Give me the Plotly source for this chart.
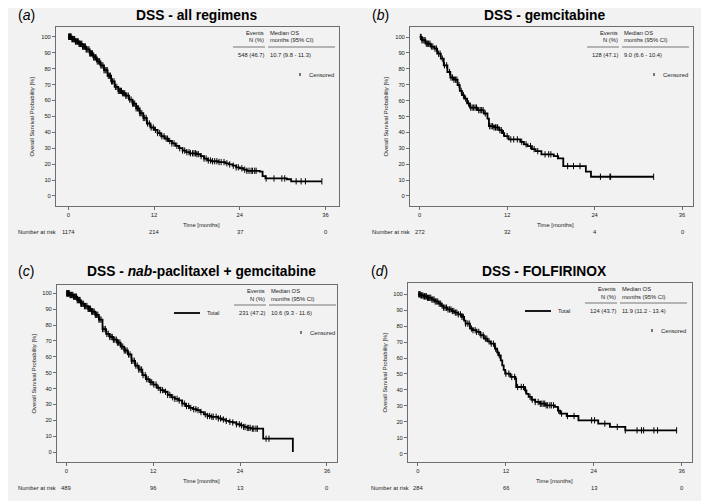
import numpy as np
import plotly.graph_objects as go

# The page body has an 8px default margin, so the figure is drawn 8px in from the window corner.
OFF = 8
WIN_W, WIN_H = 709, 501
W, H = WIN_W - OFF, WIN_H - OFF
FONT = "Liberation Sans, Arial, sans-serif"
BG = "#f2f2f2"
FRAME = "#6e6e6e"
SMALL = 5.8

# ---------------- data ----------------
titles = ["DSS - all regimens", "DSS - gemcitabine",
          "DSS - <i>nab</i>-paclitaxel + gemcitabine", "DSS - FOLFIRINOX"]
letters = ["a", "b", "c", "d"]
events = ["548 (46.7)", "128 (47.1)", "231 (47.2)", "124 (43.7)"]
median_os = ["10.7 (9.8 - 11.3)", "9.0 (6.6 - 10.4)", "10.6 (9.3 - 11.6)", "11.9 (11.2 - 13.4)"]
show_total = [False, False, True, True]

risk_times = [0, 12, 24, 36]
risk_a = ["1174", "214", "37", "0"]
risk_b = ["272", "32", "4", "0"]
risk_c = ["489", "96", "13", "0"]
risk_d = ["284", "66", "13", "0"]

x_ticks = [0, 12, 24, 36]
y_ticks = [0, 10, 20, 30, 40, 50, 60, 70, 80, 90, 100]

# Kaplan-Meier step points (time in months, survival %)
t_a = [0, 0.5, 1, 1.5, 2, 2.5, 3, 3.5, 4, 4.5, 5, 5.5, 6, 6.5, 7, 7.5, 8, 8.5, 9, 9.5,
       10, 10.5, 11, 11.5, 12, 12.5, 13, 13.5, 14, 14.5, 15, 15.5, 16, 16.5, 17, 18,
       18.5, 19, 19.5, 20, 21, 22, 22.5, 23, 23.5, 24, 24.5, 25, 26.8, 27.2, 27.6,
       30.6, 31.2, 35.5]
s_a = [100, 98.5, 97, 95.5, 93.8, 92, 89.5, 87, 84.5, 82, 79, 75.5, 72, 68.5, 66, 64.5,
       63, 60.5, 58, 55, 52, 49, 45.5, 43, 41.5, 39.5, 37.5, 36, 34.5, 33, 31.5, 30,
       28.5, 27.5, 26.8, 26.3, 25, 23.5, 22.3, 21.8, 21.3, 20.5, 19.8, 19, 18, 17.4,
       16.5, 15.8, 15.3, 12.5, 11, 10.5, 9.2, 9.2]
c_a = [0.05, 0.1, 0.15, 0.2, 0.3, 0.35, 0.4, 0.5, 0.6, 0.7, 0.8, 0.9, 1.0, 1.1, 1.2, 1.3,
       1.4, 1.5, 1.6, 1.7, 1.8, 1.9, 2.0, 2.1, 2.2, 2.3, 2.4, 2.5, 2.6, 2.75, 2.9, 3.0,
       3.1, 3.25, 3.4, 3.55, 3.7, 3.8, 3.9, 4.05, 4.2, 4.3, 4.4, 4.55, 4.7, 4.85, 5.0,
       5.15, 5.3, 5.45, 5.6, 5.75, 5.9, 6.05, 6.2, 6.4, 6.6, 6.8, 7.0, 7.15, 7.3, 7.45,
       7.6, 7.75, 7.9, 8.05, 8.2, 8.4, 8.6, 8.8, 9.0, 9.15, 9.3, 9.5, 9.7, 9.85, 10.0,
       10.15, 10.3, 10.5, 10.7, 10.9, 11.1, 11.35, 11.6, 11.9, 12.2, 12.5, 12.8, 13.1,
       13.4, 13.7, 13.9, 14.2, 14.5, 14.8, 15.2, 15.6, 16.0, 16.3, 16.6, 16.9, 17.1,
       17.4, 17.6, 17.8, 18.0, 18.2, 18.6, 19.0, 19.3, 19.6, 19.9, 20.2, 20.5, 20.8,
       21.1, 21.4, 21.8, 22.2, 22.6, 23.1, 23.5, 23.8, 24.3, 24.7, 25.0, 25.3, 25.6,
       25.8, 26.1, 26.3, 27.7, 28.8, 29.9, 30.3, 31.9, 32.6, 33.2, 35.5]

t_b = [0, 0.3, 0.8, 1.5, 2, 2.4, 2.9, 3.3, 3.8, 4.2, 4.7, 5.2, 5.5, 5.8, 6.1, 6.5, 6.9,
       7.9, 8.8, 9.3, 9.5, 10.2, 10.9, 11.3, 11.6, 12.2, 13.8, 14.3, 14.8, 15.4, 15.9,
       16.7, 18.4, 19, 19.7, 22.8, 23.5, 32.1]
s_b = [100, 98, 95.8, 94, 92.7, 89.5, 86.4, 82.2, 78, 74.5, 73.2, 69.7, 66.1, 63.5,
       61.3, 58.2, 55.6, 54, 51.9, 48.7, 43.9, 43.1, 41.4, 39.5, 37.7, 35.6, 34.1, 32.5,
       31.4, 29.5, 28.2, 26.2, 25.1, 23.6, 18.8, 15.3, 12.1, 12.1]
c_b = [0.1, 0.2, 0.3, 0.45, 0.6, 0.75, 0.9, 1.05, 1.2, 1.4, 1.6, 1.8, 2.1, 2.3, 2.6,
       2.8, 3.1, 3.4, 3.7, 4.1, 4.3, 4.5, 4.7, 4.9, 5.1, 5.4, 5.7, 6.0, 6.3, 6.7, 7.0,
       7.2, 7.4, 7.6, 7.8, 8.1, 8.3, 8.5, 8.7, 9.0, 9.6, 9.8, 10.0, 10.2, 10.4, 10.6,
       10.7, 11.0, 11.2, 11.5, 12.0, 12.5, 12.9, 13.4, 14.0, 14.6, 15.2, 15.7, 16.2,
       17.2, 17.7, 18.0, 18.9, 20.3, 21.1, 22.0, 24.8, 26.1, 26.2, 32.1]

t_c = [0, 0.5, 1, 1.5, 2, 2.5, 3, 3.5, 4, 4.5, 5, 5.5, 6, 6.5, 7, 7.5, 8, 8.5, 9, 9.5,
       10, 10.5, 11, 11.5, 12, 12.5, 13, 13.5, 14, 14.5, 15, 15.5, 16, 16.5, 17, 17.5,
       18, 18.5, 19, 19.5, 20, 21, 21.5, 22, 22.5, 23, 23.5, 24, 24.5, 25, 25.5, 27.2,
       31.3]
s_c = [100, 99, 97.9, 95.8, 93.5, 92, 90.3, 88.5, 86.5, 83.5, 77.5, 74.5, 72.5, 70.8,
       69, 66.5, 64, 61.5, 57.5, 54.5, 52, 48.5, 46, 44, 42.5, 40.5, 39, 38, 36, 34.5,
       33.5, 32.5, 30.5, 29, 27.8, 27, 26.4, 25.2, 23.7, 22.7, 22.2, 21.2, 20.5, 19.6,
       19, 18.6, 17.5, 16.8, 15.8, 15.2, 14.7, 8.4, 0]
c_c = [0.05, 0.1, 0.15, 0.2, 0.3, 0.35, 0.4, 0.5, 0.6, 0.7, 0.8, 0.9, 1.0, 1.1, 1.2,
       1.3, 1.4, 1.5, 1.6, 1.7, 1.8, 1.9, 2.0, 2.1, 2.2, 2.35, 2.5, 2.6, 2.7, 2.85, 3.0,
       3.1, 3.2, 3.35, 3.5, 3.6, 3.7, 3.85, 4.0, 4.1, 4.2, 4.35, 4.5, 4.65, 4.8, 5.0,
       5.2, 5.4, 5.6, 5.8, 6.0, 6.2, 6.35, 6.5, 6.7, 6.9, 7.05, 7.2, 7.4, 7.6, 7.8,
       8.0, 8.2, 8.4, 8.6, 8.8, 9.0, 9.2, 9.4, 9.6, 9.8, 10.0, 10.2, 10.4, 10.6, 10.9,
       11.1, 11.3, 11.6, 11.8, 12.1, 12.4, 12.7, 13.0, 13.3, 13.7, 14.0, 14.3, 14.7,
       15.0, 15.3, 15.6, 16.0, 16.3, 16.6, 16.9, 17.2, 17.6, 17.9, 18.2, 18.6, 19.2,
       19.5, 19.8, 20.1, 20.3, 20.7, 21.0, 21.3, 21.7, 22.1, 22.6, 23.0, 23.5, 23.9,
       24.2, 24.5, 24.7, 25.0, 25.2, 25.4, 25.7, 25.9, 26.2, 26.4, 27.6, 28.0]

t_d = [0, 0.4, 0.8, 1.3, 1.9, 2.3, 2.8, 3.2, 3.5, 4, 4.6, 5, 5.5, 6, 6.3, 6.5, 7.1, 7.5,
       8, 8.5, 9, 9.5, 9.9, 10.5, 10.8, 11, 11.3, 11.5, 11.7, 11.9, 12.6, 13.3, 13.4,
       14.6, 14.8, 15.1, 15.5, 16, 16.6, 17.4, 18.7, 19.1, 19.4, 20.3, 21.9, 24.6, 26.2,
       28.3, 35.3]
s_d = [100, 99.3, 98.7, 97.8, 96.7, 95.5, 94.1, 92.8, 91.6, 90.5, 89.5, 88.5, 87.4,
       85.8, 83.5, 81.6, 78.5, 77.5, 76.4, 74.3, 72.2, 70.5, 69, 65.9, 63.5, 61.7, 58.5,
       55.4, 52.5, 50.2, 48.1, 47.1, 41.8, 39.7, 37.5, 35.6, 33.8, 32.4, 31.3, 30.3,
       29.3, 27, 25.1, 23.6, 20.9, 18.8, 16.7, 14.6, 14.6]
c_d = [0.1, 0.2, 0.3, 0.4, 0.5, 0.65, 0.8, 0.9, 1.0, 1.15, 1.3, 1.45, 1.6, 1.75, 1.9,
       2.05, 2.2, 2.35, 2.5, 2.7, 2.9, 3.1, 3.3, 3.5, 3.7, 3.9, 4.1, 4.3, 4.5, 4.7, 4.9,
       5.1, 5.3, 5.5, 5.8, 6.0, 6.2, 6.5, 6.8, 7.0, 7.3, 7.5, 7.8, 8.0, 8.3, 8.6, 8.9,
       9.2, 9.4, 9.7, 10.0, 10.3, 10.6, 10.9, 11.1, 12.0, 12.4, 12.8, 13.2, 13.6, 14.1,
       14.4, 14.7, 15.3, 15.6, 16.0, 16.4, 16.7, 16.9, 17.1, 17.3, 17.5, 17.7, 18.0,
       18.2, 18.5, 19.2, 19.6, 20.4, 21.3, 23.7, 24.1, 25.5, 27.2, 28.3, 29.9, 30.5,
       30.8, 32.2, 32.7, 35.3]

curves = [(t_a, s_a, c_a), (t_b, s_b, c_b), (t_c, s_c, c_c), (t_d, s_d, c_d)]
risks = [risk_a, risk_b, risk_c, risk_d]

# ---------------- layout geometry (window pixels) ----------------
boxes = [(56, 339, 27, 206), (410, 693, 27, 206), (57, 337, 285, 462), (408, 692, 283, 462)]
xranges = [[-1.72, 37.9], [-1.33, 37.5], [-1.29, 37.4], [-1.36, 37.4]]
yranges = [[-6.3, 106.1], [-6.3, 106.3], [-6.3, 105.3], [-5.3, 107.1]]
title_pos = [(197, 15), (544, 15), (201, 271), (544, 271)]
letter_pos = [(26, 15), (380, 15), (26, 271), (379, 271)]
risk_label_x = [16, 370, 16, 369]


def px(x):
    return (x - OFF) / W


def py(y):
    return 1 - (y - OFF) / H


fig = go.Figure()
annotations = []
shapes = []

for i in range(4):
    sfx = "" if i == 0 else str(i + 1)
    xa, ya = "x" + sfx, "y" + sfx
    x0, x1, y0, y1 = boxes[i]
    t, s, c = curves[i]
    t_arr = np.array(t)
    s_arr = np.array(s)
    c_arr = np.array(c)
    idx = np.searchsorted(t_arr, c_arr, side="right") - 1
    cy = s_arr[np.clip(idx, 0, len(s_arr) - 1)]

    fig.add_trace(go.Scatter(x=t, y=s, mode="lines", line=dict(color="black", width=1.8, shape="hv"),
                             xaxis=xa, yaxis=ya, showlegend=False, hoverinfo="skip"))
    fig.add_trace(go.Scatter(x=c_arr, y=cy, mode="markers",
                             marker=dict(symbol="line-ns", size=4.5, line=dict(color="black", width=1)),
                             xaxis=xa, yaxis=ya, showlegend=False, hoverinfo="skip"))

    axcommon = dict(showline=True, mirror=True, linecolor=FRAME, linewidth=1, ticks="outside",
                    ticklen=3, tickcolor=FRAME, tickwidth=1, showgrid=False, zeroline=False,
                    tickfont=dict(family=FONT, size=SMALL, color="#222"))
    fig.update_layout(**{
        "xaxis" + sfx: dict(domain=[px(x0), px(x1)], range=xranges[i], tickvals=x_ticks,
                            anchor=ya, **axcommon),
        "yaxis" + sfx: dict(domain=[py(y1), py(y0)], range=yranges[i], tickvals=y_ticks,
                            anchor=xa, **axcommon),
    })

    # titles
    annotations.append(dict(text="<b>" + titles[i] + "</b>", x=px(title_pos[i][0]), y=py(title_pos[i][1]),
                            xref="paper", yref="paper", showarrow=False, xanchor="center", yanchor="middle",
                            font=dict(family=FONT, size=13.8, color="black")))
    annotations.append(dict(text="(<i>" + letters[i] + "</i>)", x=px(letter_pos[i][0]), y=py(letter_pos[i][1]),
                            xref="paper", yref="paper", showarrow=False, xanchor="center", yanchor="middle",
                            font=dict(family=FONT, size=14, color="black")))
    # axis titles
    annotations.append(dict(text="Time [months]", x=px((x0 + x1) / 2 + 4), y=py(y1 + 19),
                            xref="paper", yref="paper", showarrow=False, xanchor="center", yanchor="middle",
                            font=dict(family=FONT, size=SMALL, color="#222")))
    annotations.append(dict(text="Overall Survival Probability [%]", x=px(x0 - 24), y=py((y0 + y1) / 2),
                            xref="paper", yref="paper", showarrow=False, textangle=-90,
                            xanchor="center", yanchor="middle",
                            font=dict(family=FONT, size=SMALL, color="#222")))
    # number at risk
    annotations.append(dict(text="Number at risk", x=px(risk_label_x[i]), y=py(y1 + 26),
                            xref="paper", yref="paper", showarrow=False, xanchor="left", yanchor="middle",
                            font=dict(family=FONT, size=SMALL, color="#222")))
    for tv, rv in zip(risk_times, risks[i]):
        annotations.append(dict(text=rv, x=tv, y=py(y1 + 26), xref=xa, yref="paper", showarrow=False,
                                xanchor="center", yanchor="middle",
                                font=dict(family=FONT, size=SMALL, color="#222")))

    # legend table
    bw = x1 - x0
    bh = y1 - y0
    dx, dy = xa + " domain", ya + " domain"

    def fx(p):
        return p / bw

    def fy(p):
        return 1 - p / bh

    tf = dict(family=FONT, size=SMALL, color="#222")
    annotations += [
        dict(text="Events", x=fx(210), y=fy(6), xref=dx, yref=dy, showarrow=False, xanchor="right",
             yanchor="middle", font=tf),
        dict(text="N (%)", x=fx(210), y=fy(13.5), xref=dx, yref=dy, showarrow=False, xanchor="right",
             yanchor="middle", font=tf),
        dict(text="Median OS", x=fx(212), y=fy(6), xref=dx, yref=dy, showarrow=False, xanchor="left",
             yanchor="middle", font=tf),
        dict(text="months (95% CI)", x=fx(212), y=fy(13.5), xref=dx, yref=dy, showarrow=False,
             xanchor="left", yanchor="middle", font=tf),
        dict(text=events[i], x=fx(210), y=fy(28), xref=dx, yref=dy, showarrow=False, xanchor="right",
             yanchor="middle", font=tf),
        dict(text=median_os[i], x=fx(212), y=fy(28), xref=dx, yref=dy, showarrow=False, xanchor="left",
             yanchor="middle", font=tf),
        dict(text="Censored", x=fx(280), y=fy(47.5), xref=dx, yref=dy, showarrow=False, xanchor="right",
             yanchor="middle", font=tf),
    ]
    shapes += [
        dict(type="line", xref=dx, yref=dy, x0=fx(177), x1=fx(209), y0=fy(20), y1=fy(20),
             line=dict(color="#777", width=1)),
        dict(type="line", xref=dx, yref=dy, x0=fx(212), x1=fx(279), y0=fy(20), y1=fy(20),
             line=dict(color="#777", width=1)),
        dict(type="line", xref=dx, yref=dy, x0=fx(244), x1=fx(244), y0=fy(46), y1=fy(49),
             line=dict(color="black", width=1)),
    ]
    if show_total[i]:
        shapes.append(dict(type="line", xref=dx, yref=dy, x0=fx(117), x1=fx(143), y0=fy(28), y1=fy(28),
                           line=dict(color="black", width=1.8)))
        annotations.append(dict(text="Total", x=fx(148), y=fy(28), xref=dx, yref=dy, showarrow=False,
                                xanchor="left", yanchor="middle", font=tf))

fig.update_layout(width=W, height=H, autosize=False, margin=dict(l=0, r=0, t=0, b=0),
                  paper_bgcolor=BG, plot_bgcolor=BG, annotations=annotations, shapes=shapes,
                  font=dict(family=FONT))

fig.write_html("out.html")
